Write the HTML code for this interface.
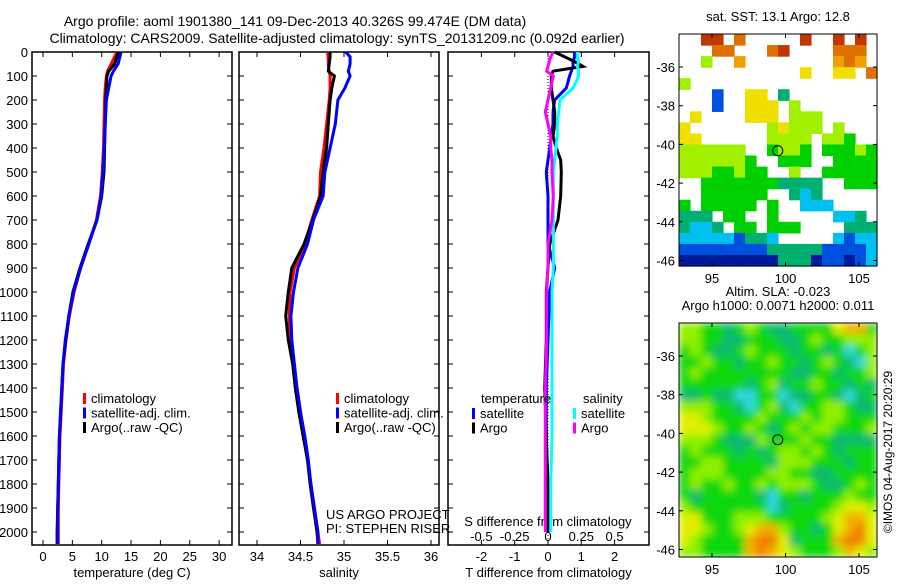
<!DOCTYPE html>
<html><head><meta charset="utf-8"><style>
body{margin:0;background:#fff;}
svg text{font-family:"Liberation Sans",sans-serif;fill:#000;}
</style></head><body>
<svg id="fig" width="900" height="580" xmlns="http://www.w3.org/2000/svg">
<defs>
<filter id="blur" x="0" y="0" width="1" height="1"><feGaussianBlur stdDeviation="4" edgeMode="duplicate"/></filter>
<clipPath id="clip2"><rect x="679" y="323" width="198" height="234"/></clipPath>
</defs>
<text x="295" y="26" font-size="14" text-anchor="middle">Argo profile: aoml 1901380_141 09-Dec-2013 40.326S 99.474E (DM data)</text>
<text x="337" y="43" font-size="14" text-anchor="middle">Climatology: CARS2009. Satellite-adjusted climatology: synTS_20131209.nc (0.092d earlier)</text>
<g id="p1"></g>
<g id="p2"></g>
<g id="p3"></g>
<g id="m1"></g>
<g id="m2"></g>
<text font-size="12" transform="translate(892,452) rotate(-90)" text-anchor="middle">©IMOS 04-Aug-2017 20:20:29</text>
</svg>
<script>
const depths=[0,20,50,80,100,150,200,300,400,500,600,700,800,900,1000,1100,1200,1300,1400,1500,1600,1700,1800,1900,2000,2050];
const tArgo=[12.8,12.6,12.2,11.2,10.9,10.8,10.7,10.6,10.5,10.4,10.0,9.2,7.7,6.3,5.1,4.4,3.9,3.4,3.2,3.0,2.8,2.7,2.6,2.5,2.4,2.4];
const tClim=[12.6,12.2,11.6,11.0,10.8,10.6,10.5,10.4,10.3,10.1,9.8,9.1,7.8,6.4,5.3,4.5,3.9,3.5,3.3,3.1,2.9,2.8,2.7,2.6,2.6,2.6];
const tSat=[13.3,13.1,12.8,12.0,11.6,11.2,10.8,10.6,10.4,10.2,9.9,9.2,7.8,6.4,5.2,4.4,3.8,3.4,3.2,3.0,2.8,2.7,2.6,2.5,2.5,2.5];
const sArgo=[34.84,34.84,34.83,34.82,34.89,34.86,34.84,34.82,34.80,34.76,34.73,34.64,34.54,34.40,34.36,34.33,34.36,34.41,34.44,34.48,34.53,34.58,34.61,34.65,34.69,34.70];
const sClim=[34.81,34.82,34.82,34.83,34.84,34.84,34.83,34.80,34.77,34.73,34.72,34.63,34.55,34.43,34.38,34.37,34.38,34.42,34.46,34.50,34.54,34.58,34.62,34.66,34.70,34.72];
const sSat=[35.02,35.07,35.07,35.05,35.07,35.01,34.93,34.90,34.84,34.78,34.76,34.65,34.58,34.47,34.42,34.39,34.40,34.43,34.46,34.50,34.55,34.59,34.62,34.66,34.70,34.70];
const dDepths=[0,20,40,60,80,100,150,200,250,300,350,400,450,500,600,700,800,900,1000,1200,1400,1600,1800,2000];
const dTArgo=[0.2,0.5,0.8,1.05,0.15,0.1,0.1,0.15,0.2,0.2,0.15,0.25,0.38,0.4,0.38,0.3,0.05,0.0,-0.05,-0.05,-0.1,-0.05,0.0,0.0];
const dTSat=[0.8,0.8,0.75,0.75,0.7,0.65,0.55,0.2,0.15,0.15,0.1,0.05,0.0,-0.05,0.0,0.0,0.0,0.2,0.05,0.0,-0.05,-0.05,-0.05,-0.05];
const dSSat=[0.22,0.22,0.23,0.22,0.23,0.23,0.19,0.09,0.08,0.07,0.07,0.06,0.05,0.04,0.04,0.04,0.04,0.04,0.03,0.03,0.03,0.03,0.02,0.02];
const dSArgo=[0.04,0.02,0.01,0.0,-0.01,0.04,0.02,0.0,-0.02,0.0,0.02,0.02,0.03,0.03,0.04,0.03,0.0,0.0,-0.01,-0.01,-0.02,-0.02,-0.02,-0.02];
const depthTicks=[0,100,200,300,400,500,600,700,800,900,1000,1100,1200,1300,1400,1500,1600,1700,1800,1900,2000];
const tTicks=[0,5,10,15,20,25,30];
const sTicks=[34,34.5,35,35.5,36];
const dtTicks=[-2,-1,0,1,2];
const dsTicks=["-0.5","-0.25","0","0.25","0.5"];
const lonTicks=[95,100,105];
const latTicks=[-36,-38,-40,-42,-44,-46];
const sstGrid=["..99.8.....9..9.9.","...88...89....888.","..5..7........787.","...........6..66.8","5.................","...1..66.3........","...1..666.5.......",".6....666.555.....","6.......56555.5...","66......5555.554..","555555..4554.44454","5555554..444..4444","55544544..5..44444","..44444443333..444","..444444..323.....","4.44444.4..222....","333.44..4.....223.","3223.44.444....333","222221332.....2122","111111113333311112","000000000333011012"];
const slaGrid=["554434543344446774","554433444334544555","454334544434434245","445443445443454325","454444444433443445","444444345344544343","334332244233443234","555443245324455433","665444454445455444","666544543454554445","555433354445443333","454443434554543444","445544443555444344","455544445544334444","454454454555433454","434444432443444544","544444442344445665","664445554444456776","665445677544346786","654444788634447886","554444787654445765"];
const argoLon=99.474, argoLat=-40.326;

const NS="http://www.w3.org/2000/svg";
function mk(p,tag,at,txt){const e=document.createElementNS(NS,tag);for(const k in at)e.setAttribute(k,at[k]);if(txt!==undefined)e.textContent=txt;p.appendChild(e);return e;}
const Y0=52,Y1=545;
const yD=d=>Y0+d*0.24;
function panel(g,x0,x1,xs,ticks,labels,xlabel,showY){
  const b=mk(g,'rect',{x:x0,y:Y0,width:x1-x0,height:Y1-Y0,fill:'none',stroke:'#000','stroke-width':1.5});
  
  depthTicks.forEach(d=>{const y=yD(d);
    mk(g,'line',{x1:x0,x2:x0+5,y1:y,y2:y,stroke:'#000'});mk(g,'line',{x1:x1-5,x2:x1,y1:y,y2:y,stroke:'#000'});
    if(showY){const t=mk(g,'text',{x:28,y:y+5,'font-size':13,'text-anchor':'end'},String(d));}
  });
  ticks.forEach((v,i)=>{const x=xs(v);
    mk(g,'line',{x1:x,x2:x,y1:Y0,y2:Y0+5,stroke:'#000'});mk(g,'line',{x1:x,x2:x,y1:Y1-5,y2:Y1,stroke:'#000'});
    if(labels){const t=mk(g,'text',{x:x,y:561,'font-size':13,'text-anchor':'middle'},labels[i]);}
  });
  const xl=mk(g,'text',{x:(x0+x1)/2,y:577,'font-size':13,'text-anchor':'middle'},xlabel);
  
}
function line(g,xs,ys,vals,dp,col,name,w){
  const pts=vals.map((v,i)=>xs(v).toFixed(1)+','+ys(dp[i]).toFixed(1)).join(' ');
  const l=mk(g,'polyline',{points:pts,fill:'none',stroke:col,'stroke-width':w||3});
  
}
function legend(g,x,y,items){items.forEach((it,i)=>{
  mk(g,'rect',{x:x,y:y+i*14.5-10,width:3,height:11,fill:it[1]});
  const t=mk(g,'text',{x:x+8,y:y+i*14.5,'font-size':13},it[0]);
  });}
// panel 1
const p1=document.getElementById('p1');const xT=v=>43+v*5.87;
panel(p1,32,232,xT,tTicks,tTicks.map(String),'temperature (deg C)',true);
line(p1,xT,yD,tClim,depths,'#f00','temp-climatology-line');
line(p1,xT,yD,tArgo,depths,'#000','temp-argo-line');
line(p1,xT,yD,tSat,depths,'#00f','temp-satellite-line');
legend(p1,83,403,[['climatology','#f00'],['satellite-adj. clim.','#00f'],['Argo(..raw -QC)','#000']]);
// panel 2
const p2=document.getElementById('p2');const xS=v=>257+(v-34)*87;
panel(p2,239,439,xS,sTicks,sTicks.map(String),'salinity',false);
line(p2,xS,yD,sClim,depths,'#f00','sal-climatology-line');
line(p2,xS,yD,sArgo,depths,'#000','sal-argo-line');
line(p2,xS,yD,sSat,depths,'#00f','sal-satellite-line');
legend(p2,336,403,[['climatology','#f00'],['satellite-adj. clim.','#00f'],['Argo(..raw -QC)','#000']]);
mk(p2,'text',{x:326,y:519,'font-size':13},'US ARGO PROJECT');
mk(p2,'text',{x:326,y:533,'font-size':13},'PI: STEPHEN RISER');
// panel 3
const p3=document.getElementById('p3');const xDT=v=>548+v*33.3;const xDS=v=>548+v*133.2;
panel(p3,448,649,xDT,dtTicks,dtTicks.map(String),'T difference from climatology',false);
dsTicks.forEach(s=>{const t=mk(p3,'text',{x:xDS(parseFloat(s)),y:541,'font-size':13,'text-anchor':'middle'},s);});
mk(p3,'text',{x:548,y:526,'font-size':13,'text-anchor':'middle'},'S difference from climatology');
mk(p3,'line',{x1:548,x2:548,y1:Y0,y2:Y1,stroke:'#000','stroke-dasharray':'1,2'});
line(p3,xDT,yD,dTSat,dDepths,'#00f','tdiff-satellite-line');
line(p3,xDT,yD,dTArgo,dDepths,'#000','tdiff-argo-line');
line(p3,xDS,yD,dSSat,dDepths,'#0ff','sdiff-satellite-line');
line(p3,xDS,yD,dSArgo,dDepths,'#f0f','sdiff-argo-line');
mk(p3,'text',{x:481,y:403,'font-size':13},'temperature');
legend(p3,472,418,[['satellite','#00f'],['Argo','#000']]);
mk(p3,'text',{x:583,y:403,'font-size':13},'salinity');
legend(p3,573,418,[['satellite','#0ff'],['Argo','#f0f']]);
// maps
const sstCols={'0':'#001a9c','1':'#0050e0','2':'#00c0f0','3':'#00b070','4':'#00d000','5':'#a0f000','6':'#f0e000','7':'#f0a000','8':'#e07000','9':'#c03800'};
const slaCols={'2':'#30d8e0','3':'#10b870','4':'#10d810','5':'#90f000','6':'#e0f000','7':'#f0b000','8':'#f08000'};
function map(g,top,bot,grid,cols,titles,smooth){
  const x0=679,x1=877,xL=v=>712+(v-95)*14.7;
  const rows=grid.length,ncol=grid[0].length,cw=(x1-x0)/ncol,ch=(bot-top)/rows;
  let cg=g;
  if(smooth){const c=mk(g,'g',{'clip-path':'url(#clip2)'});cg=mk(c,'g',{filter:'url(#blur)'});}
  grid.forEach((r,i)=>{for(let j=0;j<ncol;j++){const c=r[j];if(c==='.')continue;
    const rc=mk(cg,'rect',{x:(x0+j*cw).toFixed(2),y:(top+i*ch).toFixed(2),width:(cw+0.6).toFixed(2),height:(ch+0.6).toFixed(2),fill:cols[c]});
    }});
  const yl=v=>top+33+(-36-v)*19.35;
  mk(g,'rect',{x:x0,y:top,width:x1-x0,height:bot-top,fill:'none',stroke:'#000'});
  lonTicks.forEach(v=>{const x=xL(v);mk(g,'line',{x1:x,x2:x,y1:bot-4,y2:bot,stroke:'#000'});mk(g,'line',{x1:x,x2:x,y1:top,y2:top+4,stroke:'#000'});
    mk(g,'text',{x:x,y:bot+17,'font-size':13,'text-anchor':'middle'},String(v));});
  latTicks.forEach(v=>{const y=yl(v);mk(g,'line',{x1:x0,x2:x0+4,y1:y,y2:y,stroke:'#000'});mk(g,'line',{x1:x1-4,x2:x1,y1:y,y2:y,stroke:'#000'});
    mk(g,'text',{x:675,y:y+5,'font-size':13,'text-anchor':'end'},String(v));});
  const m=mk(g,'circle',{cx:xL(argoLon),cy:yl(argoLat),r:5,fill:'none',stroke:'#000'});
  
  titles.forEach((t,i)=>mk(g,'text',{x:778,y:top-13-(titles.length-1-i)*14,'font-size':13,'text-anchor':'middle'},t));
}
map(document.getElementById('m1'),34,266,sstGrid,sstCols,['sat. SST: 13.1 Argo: 12.8'],false);
map(document.getElementById('m2'),323,557,slaGrid,slaCols,['Altim. SLA: -0.023','Argo h1000: 0.0071 h2000: 0.011'],true);
</script>
</body></html>
